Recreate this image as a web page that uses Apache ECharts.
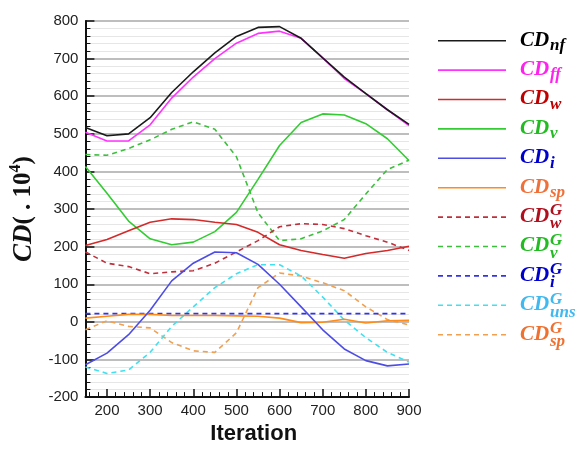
<!DOCTYPE html>
<html>
<head>
<meta charset="utf-8">
<script src="https://cdn.jsdelivr.net/npm/echarts@6/dist/echarts.min.js"></script>
<style>html,body{margin:0;padding:0;background:#fff}#c{width:582px;height:450px}</style>
</head>
<body>
<div id="c"></div>
<script>
var iterations = [150,200,250,300,350,400,450,500,550,600,650,700,750,800,850,900];
var cdNf   = [517,495,500,543,610,665,715,759,783,785,754,702,651,607,564,525];
var cdFf   = [504,481,481,524,595,651,700,741,767,773,754,702,647,607,564,522];
var cdW    = [203,219,242,265,274,272,265,259,238,205,190,179,169,182,190,201];
var cdV    = [413,342,268,221,205,212,240,291,379,469,530,553,550,527,487,429];
var cdI    = [-114,-83,-34,31,109,156,186,184,153,100,40,-21,-72,-103,-117,-112];
var cdSp   = [10,15,20,20,17,17,17,16,15,10,-2,-1,7,-3,3,4];
var cdWG   = [186,156,147,128,133,136,156,186,216,253,261,259,248,229,212,190];
var cdVG   = [445,443,461,484,512,532,512,439,290,216,221,242,272,340,405,430];
var cdIG   = [22,22,22,22,22,22,22,22,22,22,22,22,22,22,22,22];
var cdUnsG = [-120,-137,-128,-81,-12,40,91,128,152,152,122,66,5,-42,-81,-107];
var cdSpG  = [-21,3,-12,-16,-55,-77,-81,-29,91,130,122,104,83,40,6,-8];

var xTickLabels = [200,300,400,500,600,700,800,900];
var xMinorTicks = [160,180,220,240,260,280,320,340,360,380,420,440,460,480,520,540,560,580,620,640,660,680,720,740,760,780,820,840,860,880];

var seriesNames = ['CD_nf','CD_ff','CD_w','CD_v','CD_i','CD_sp','CD_w^G','CD_v^G','CD_i^G','CD_uns^G','CD_sp^G'];
var legendSub = ['nf','ff','w','v','i','sp','w','v','i','uns','sp'];
var legendSup = ['','','','','','','G','G','G','G','G'];
var seriesData = [cdNf,cdFf,cdW,cdV,cdI,cdSp,cdWG,cdVG,cdIG,cdUnsG,cdSpG];
var lineColors = ['#1a1a1a','#ff33ff','#d42a2a','#33cc33','#4d4de6','#ff8c1a','#c0303c','#3cbf3c','#3333ee','#40e0f0','#f0a050'];
var textColors = ['#000000','#ff22ee','#c00000','#22bb22','#0000cc','#f0703a','#b0101e','#22bb22','#0000cc','#40b8f0','#f07030'];
var dashed = [false,false,false,false,false,false,true,true,true,true,true];

var series = seriesNames.map(function(n,k){
  return {
    name:n, type:'line', symbol:'none', smooth:false, xAxisIndex:0,
    data: iterations.map(function(x,j){return [x, seriesData[k][j]];}),
    lineStyle:{color:lineColors[k], width:1.6, type: dashed[k]?[5,4]:'solid'},
    itemStyle:{color:lineColors[k]},
    z: 10-k*0.1
  };
});

var graphic = [];
var fontMain = 'italic bold 21px "Liberation Serif"';
var fontSmall = 'italic bold 17px "Liberation Serif"';
for (var k=0;k<seriesNames.length;k++){
  var y = 40.7 + 29.4*k;
  graphic.push({type:'line', shape:{x1:438,y1:y,x2:506,y2:y},
    style:{stroke:lineColors[k], lineWidth:1.6, lineDash: dashed[k]?[5,4]:null}});
  graphic.push({type:'text', x:520, y:y-0.5, style:{text:'CD', font:fontMain, fill:textColors[k], verticalAlign:'middle', align:'left'}});
  if (legendSup[k]) {
    graphic.push({type:'text', x:550, y:y-6, style:{text:legendSup[k], font:fontSmall, fill:textColors[k], verticalAlign:'middle', align:'left'}});
    graphic.push({type:'text', x:550, y:y+7, style:{text:legendSub[k], font:fontSmall, fill:textColors[k], verticalAlign:'middle', align:'left'}});
  } else {
    graphic.push({type:'text', x:550, y:y+5, style:{text:legendSub[k], font:fontSmall, fill:textColors[k], verticalAlign:'middle', align:'left'}});
  }
}

var chart = echarts.init(document.getElementById('c'), null, {renderer:'canvas'});
chart.setOption({
  animation:false,
  backgroundColor:'#ffffff',
  grid:{left:81, top:21, width:328, height:386, containLabel:false},
  xAxis:[{
    type:'value', min:150, max:900, position:'bottom',
    name:'Iteration', nameLocation:'middle', nameGap:22,
    nameTextStyle:{fontFamily:'Liberation Sans', fontWeight:'bold', fontSize:22, color:'#111', padding:[0,0,0,13]},
    axisLine:{show:true, onZero:false, lineStyle:{color:'#111', width:2}},
    axisTick:{show:true, inside:true, length:8, customValues:xTickLabels, lineStyle:{color:'#111', width:1.5}},
    axisLabel:{fontFamily:'Liberation Sans', fontSize:15, color:'#222', margin:6, customValues:xTickLabels},
    splitLine:{show:false}
  },{
    type:'value', min:150, max:900, position:'bottom',
    axisLine:{show:false, onZero:false},
    axisTick:{show:true, inside:true, length:5, customValues:xMinorTicks, lineStyle:{color:'#111', width:1}},
    axisLabel:{show:false},
    splitLine:{show:false}
  }],
  yAxis:{
    type:'value', min:-200, max:800, interval:100,
    name:'{i|CD}{n|( . 10}{s|4}{n|)}', nameLocation:'middle', nameGap:44, nameRotate:90,
    nameTextStyle:{color:'#111', rich:{
      i:{fontFamily:'Liberation Serif', fontStyle:'italic', fontWeight:'bold', fontSize:27, color:'#111', lineHeight:32},
      n:{fontFamily:'Liberation Serif', fontWeight:'bold', fontSize:25, color:'#111', lineHeight:32},
      s:{fontFamily:'Liberation Serif', fontWeight:'bold', fontSize:16, color:'#111', verticalAlign:'top', lineHeight:18}
    }},
    axisLine:{show:true, onZero:false, lineStyle:{color:'#111', width:2}},
    axisTick:{show:true, inside:true, length:9, lineStyle:{color:'#111', width:1.5}},
    minorTick:{show:true, splitNumber:5, length:5, lineStyle:{color:'#111', width:1}},
    axisLabel:{fontFamily:'Liberation Sans', fontSize:15, color:'#222', margin:7},
    splitLine:{show:true, lineStyle:{color:'#a8a8a8', width:1.5}},
    minorSplitLine:{show:true, lineStyle:{color:'#e6e6e6', width:1}}
  },
  series:series,
  graphic:graphic
});
</script>
</body>
</html>
